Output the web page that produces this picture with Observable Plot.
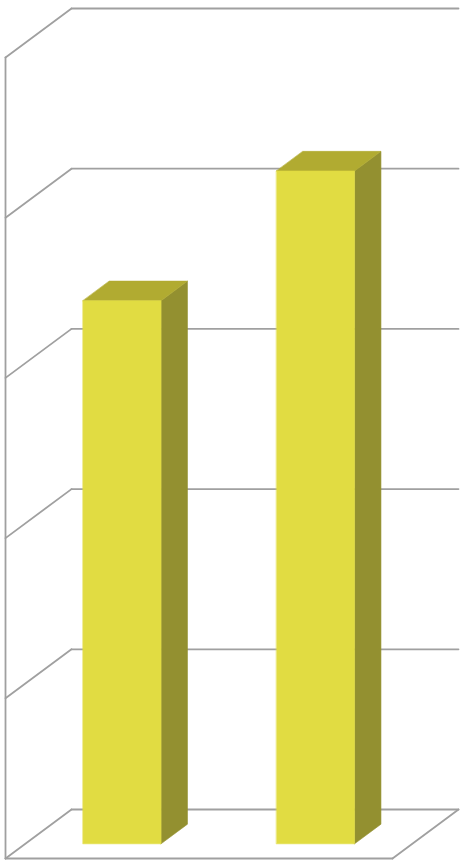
<!DOCTYPE html>
<html>
<head>
<meta charset="utf-8">
<script src="https://cdn.jsdelivr.net/npm/d3@7"></script>
<script src="https://cdn.jsdelivr.net/npm/@observablehq/plot@0.6"></script>
<style>
  html, body { margin: 0; padding: 0; background: #fff; }
</style>
</head>
<body>
<div id="chart"></div>
<script>
// ---- data ----
const categories = ["Category 1", "Category 2"];
const values = [3.39, 4.2];
const yTicks = [0, 1, 2, 3, 4, 5];

// ---- oblique 3D projection (depth z in 0..1) ----
const W = 467, H = 865;
const xRange = [5, 392], yRange = [858, 57];
const xDomain = [0, categories.length], yDomain = [0, 5];
const depthPxX = 66, depthPxY = 49;
const kx = (xDomain[1] - xDomain[0]) / (xRange[1] - xRange[0]);
const ky = (yDomain[1] - yDomain[0]) / (yRange[0] - yRange[1]);
const proj = (x, v, z) => ({x: x + z * depthPxX * kx, y: v + z * depthPxY * ky});

// wall / grid segments
const segs = [];
let sid = 0;
const seg = (a, b) => { const id = sid++; segs.push({id, ...proj(...a)}, {id, ...proj(...b)}); };
const nCat = categories.length;
yTicks.forEach(t => {
  seg([0, t, 1], [nCat, t, 1]);   // back wall gridline
  seg([0, t, 0], [0, t, 1]);      // side wall gridline
});
seg([0, yDomain[0], 0], [0, yDomain[1], 0]);   // left wall front edge
seg([0, 0, 0], [nCat, 0, 0]);                  // floor front edge
seg([nCat, 0, 0], [nCat, 0, 1]);               // floor right edge

// bar faces
const halfW = 0.2016, z0 = 0.3, z1 = 0.7;
const faces = [];
let fid = 0;
const face = (pts, face) => { const id = fid++; pts.forEach(p => faces.push({id, face, ...proj(...p)})); };
categories.forEach((c, i) => {
  const v = values[i], xl = i + 0.5 - halfW, xr = i + 0.5 + halfW;
  face([[xr, 0, z0], [xr, 0, z1], [xr, v, z1], [xr, v, z0]], "side");
  face([[xl, v, z0], [xr, v, z0], [xr, v, z1], [xl, v, z1]], "top");
  face([[xl, 0, z0], [xr, 0, z0], [xr, v, z0], [xl, v, z0]], "front");
});
const faceColor = {front: "#E1DC42", side: "#939030", top: "#B1AB31"};

const chart = Plot.plot({
  width: W, height: H,
  marginTop: 0, marginRight: 0, marginBottom: 0, marginLeft: 0,
  x: {type: "linear", domain: xDomain, range: xRange, axis: null},
  y: {type: "linear", domain: yDomain, range: yRange, axis: null},
  marks: [
    Plot.line(segs, {x: "x", y: "y", z: "id", stroke: "#A0A0A0", strokeWidth: 1.8}),
    Plot.line(faces, {x: "x", y: "y", z: "id", curve: "linear-closed",
      fill: d => faceColor[d.face], stroke: d => faceColor[d.face], strokeWidth: 0.6})
  ]
});
document.getElementById("chart").appendChild(chart);
</script>
</body>
</html>
